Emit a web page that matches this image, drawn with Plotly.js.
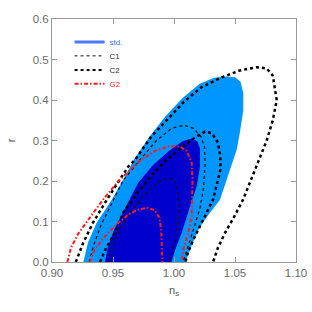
<!DOCTYPE html>
<html><head><meta charset="utf-8">
<script src="https://cdn.plot.ly/plotly-3.0.1.min.js"></script>
<style>html,body{margin:0;padding:0;background:#fff}#c{width:312px;height:312px}</style>
</head><body><div id="c"></div>
<script>
// std 2-sigma (light blue fill)
const std2Ns = [0.9257,0.9295,0.9366,0.949,0.9598,0.967,0.980,0.993,1.007,1.021,1.033,1.042,1.050,1.0545,1.0568,1.0568,1.054,1.0514,1.045,1.0377,1.029,1.021,1.015,1.0095];
const std2R  = [0,0.048,0.097,0.154,0.211,0.252,0.31,0.36,0.405,0.44,0.455,0.458,0.456,0.445,0.417,0.375,0.32,0.277,0.22,0.154,0.12,0.085,0.045,0];
// std 1-sigma (dark blue fill)
const std1Ns = [0.9434,0.946,0.951,0.958,0.9705,0.983,0.997,1.007,1.0145,1.019,1.0213,1.0213,1.0186,1.0131,1.0063,1.001,0.998];
const std1R  = [0,0.04,0.08,0.121,0.195,0.24,0.277,0.298,0.305,0.298,0.28,0.236,0.187,0.137,0.072,0.03,0];
// C1 (dotted)
const c1OuterNs = [0.9306,0.934,0.940,0.948,0.958,0.972,0.985,0.998,1.008,1.016,1.022,1.025,1.0255,1.024,1.0213,1.017,1.012,1.0075];
const c1OuterR  = [0,0.04,0.09,0.14,0.2,0.252,0.298,0.33,0.338,0.33,0.31,0.285,0.24,0.178,0.134,0.09,0.045,0];
const c1InnerNs = [0.9462,0.950,0.956,0.964,0.975,0.9858,0.994,0.9995,1.002,1.0036,1.0044,1.002,0.999,0.9962];
const c1InnerR  = [0,0.04,0.08,0.121,0.162,0.195,0.207,0.205,0.19,0.165,0.137,0.072,0.03,0];
// C2 (dashed)
const c2OuterNs = [0.9195,0.9257,0.9336,0.945,0.9626,0.968,0.9815,0.9967,1.008,1.0227,1.0377,1.054,1.0678,1.076,1.081,1.0842,1.081,1.076,1.073,1.065,1.0566,1.049,1.0418,1.036,1.032];
const c2OuterR  = [0,0.048,0.097,0.154,0.236,0.252,0.31,0.36,0.395,0.432,0.454,0.473,0.481,0.478,0.46,0.40,0.35,0.30,0.277,0.22,0.154,0.11,0.072,0.035,0];
const c2InnerNs = [0.9393,0.9445,0.9516,0.959,0.970,0.982,0.993,1.005,1.016,1.0254,1.031,1.036,1.038,1.038,1.032,1.0238,1.0158,1.011,1.0095];
const c2InnerR  = [0,0.035,0.072,0.125,0.17,0.215,0.25,0.28,0.305,0.322,0.318,0.295,0.26,0.227,0.154,0.104,0.055,0.02,0];
// G2 (dash-dot red)
const g2OuterNs = [0.9126,0.9155,0.9215,0.9298,0.9418,0.9545,0.972,0.985,0.996,1.005,1.0104,1.0145,1.0152,1.0145,1.0115,1.0077,1.0063];
const g2OuterR  = [0,0.035,0.07,0.104,0.154,0.2,0.25,0.275,0.286,0.285,0.274,0.245,0.2,0.113,0.07,0.032,0];
const g2InnerNs = [0.931,0.935,0.941,0.947,0.955,0.963,0.971,0.978,0.984,0.988,0.9895,0.990,0.9905];
const g2InnerR  = [0,0.03,0.055,0.075,0.098,0.118,0.13,0.134,0.128,0.11,0.08,0.04,0];

const xTicks = [0.90,0.95,1.00,1.05,1.10];
const yTicks = [0.0,0.1,0.2,0.3,0.4,0.5,0.6];
const legendNames = ['std.','C1','C2','G2'];

const LIGHT='#0096ff', DARK='#0000cc', RED='#ff1a1a';
const DASH='3px,3px', DASHDOT='4px,2px,1.5px,2px';
const traces = [
  {x:std2Ns,y:std2R,mode:'lines',fill:'toself',fillcolor:LIGHT,line:{width:0,color:LIGHT},showlegend:false,hoverinfo:'skip'},
  {x:std1Ns,y:std1R,mode:'lines',fill:'toself',fillcolor:DARK,line:{width:0,color:DARK},showlegend:false,hoverinfo:'skip'},
  {x:c1OuterNs,y:c1OuterR,mode:'lines',line:{color:'#111',width:1.3,dash:'dot'},showlegend:false},
  {x:c1InnerNs,y:c1InnerR,mode:'lines',line:{color:'#111',width:1.3,dash:'dot'},showlegend:false},
  {x:c2OuterNs,y:c2OuterR,mode:'lines',line:{color:'#000',width:2.5,dash:DASH},showlegend:false},
  {x:c2InnerNs,y:c2InnerR,mode:'lines',line:{color:'#000',width:2.5,dash:DASH},showlegend:false},
  {x:g2OuterNs,y:g2OuterR,mode:'lines',line:{color:RED,width:2,dash:DASHDOT},showlegend:false},
  {x:g2InnerNs,y:g2InnerR,mode:'lines',line:{color:RED,width:2,dash:DASHDOT},showlegend:false},
  // legend entries, each in its own legend box for tight row spacing
  {x:[null],y:[null],mode:'lines',legend:'legend',name:'<span style="color:#3a6bff">'+legendNames[0]+'</span>',line:{color:'#4a7bff',width:3}},
  {x:[null],y:[null],mode:'lines',legend:'legend2',name:legendNames[1],line:{color:'#111',width:1,dash:'dot'}},
  {x:[null],y:[null],mode:'lines',legend:'legend3',name:legendNames[2],line:{color:'#000',width:2,dash:DASH}},
  {x:[null],y:[null],mode:'lines',legend:'legend4',name:'<span style="color:#ff3030">'+legendNames[3]+'</span>',line:{color:RED,width:2,dash:DASHDOT}}
];
const FONT='Liberation Sans, Arial, sans-serif';
const axisCommon = {showgrid:false,zeroline:false,showline:true,linecolor:'#999',linewidth:1,mirror:'ticks',ticks:'inside',ticklen:5,tickcolor:'#999',tickfont:{family:FONT,size:11.5,color:'#6a6a6a'}};
function leg(y){return {x:0.072,y:y,xanchor:'left',yanchor:'top',bgcolor:'rgba(0,0,0,0)',itemwidth:30,font:{family:FONT,size:8,color:'#333'}};}
const layout = {
  width:312,height:312,
  margin:{l:52,r:16,t:18.5,b:49.5},
  paper_bgcolor:'#fff',plot_bgcolor:'#fff',
  xaxis:Object.assign({},axisCommon,{range:[0.9,1.1],tickvals:xTicks,tickformat:'.2f',title:{text:'n<sub>s</sub>',font:{family:FONT,size:11,color:'#555'},standoff:8}}),
  yaxis:Object.assign({},axisCommon,{range:[0,0.6],tickvals:yTicks,tickformat:'.1f',title:{text:'r',font:{family:FONT,size:11,color:'#555'},standoff:14}}),
  legend:leg(0.965),
  legend2:leg(0.908),
  legend3:leg(0.850),
  legend4:leg(0.793),
  showlegend:true
};
Plotly.newPlot('c',traces,layout,{staticPlot:true,displayModeBar:false});
</script></body></html>
